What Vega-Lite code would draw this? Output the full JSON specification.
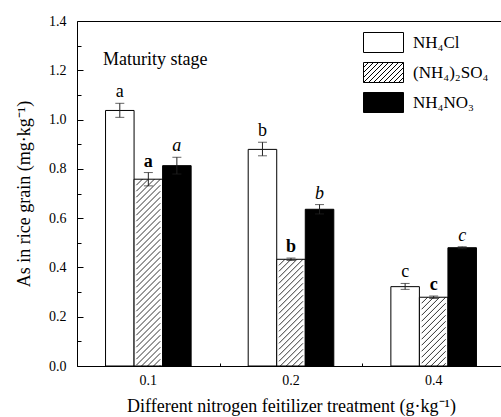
{
  "$schema": "https://vega.github.io/schema/vega-lite/v6.json",
  "width": 424,
  "height": 345,
  "autosize": {"type": "none"},
  "padding": {"left": 77, "top": 21, "right": 0, "bottom": 51},
  "background": "white",
  "config": {
    "view": {"stroke": null},
    "font": "Liberation Serif",
    "axis": {"labelFont": "Liberation Serif", "titleFont": "Liberation Serif", "labelFontSize": 14, "titleFontSize": 18, "titleFontWeight": "normal", "domainColor": "black", "tickColor": "black", "labelColor": "black", "titleColor": "black", "grid": false, "domainWidth": 1, "tickWidth": 1},
    "legend": {"labelFont": "Liberation Serif", "labelFontSize": 17, "labelColor": "black"},
    "text": {"font": "Liberation Serif", "color": "black"}
  },
  "data": {"values": [
    {"dose": "0.1", "series": "NH₄Cl", "mean": 1.037, "lo": 1.009, "hi": 1.066, "letter": "a"},
    {"dose": "0.1", "series": "(NH₄)₂SO₄", "mean": 0.758, "lo": 0.731, "hi": 0.785, "letter": "a"},
    {"dose": "0.1", "series": "NH₄NO₃", "mean": 0.813, "lo": 0.779, "hi": 0.847, "letter": "a"},
    {"dose": "0.2", "series": "NH₄Cl", "mean": 0.879, "lo": 0.853, "hi": 0.908, "letter": "b"},
    {"dose": "0.2", "series": "(NH₄)₂SO₄", "mean": 0.433, "lo": 0.428, "hi": 0.438, "letter": "b"},
    {"dose": "0.2", "series": "NH₄NO₃", "mean": 0.636, "lo": 0.617, "hi": 0.655, "letter": "b"},
    {"dose": "0.4", "series": "NH₄Cl", "mean": 0.322, "lo": 0.311, "hi": 0.335, "letter": "c"},
    {"dose": "0.4", "series": "(NH₄)₂SO₄", "mean": 0.279, "lo": 0.274, "hi": 0.284, "letter": "c"},
    {"dose": "0.4", "series": "NH₄NO₃", "mean": 0.480, "lo": 0.476, "hi": 0.484, "letter": "c"}
  ]},
  "resolve": {"axis": {"x": "independent", "y": "independent"}},
  "layer": [
    {
      "mark": {"type": "bar", "stroke": "black", "strokeWidth": 1},
      "encoding": {
        "x": {"field": "dose", "type": "nominal", "scale": {"range": [0, 428], "paddingInner": 0, "paddingOuter": 0},
          "axis": {"orient": "bottom", "title": "Different nitrogen feitilizer treatment (g·kg⁻¹)", "labelAngle": 0, "labelFontSize": 14, "titleFontSize": 18, "tickSize": -6, "labelPadding": 13, "titlePadding": 10}},
        "xOffset": {"field": "series", "type": "nominal", "scale": {"domain": ["NH₄Cl", "(NH₄)₂SO₄", "NH₄NO₃"], "paddingInner": 0, "paddingOuter": 1.472}},
        "y": {"field": "mean", "type": "quantitative", "scale": {"domain": [0, 1.4], "nice": false},
          "axis": {"orient": "left", "title": "As in rice grain (mg·kg⁻¹)", "values": [0, 0.1, 0.2, 0.3, 0.4, 0.5, 0.6, 0.7, 0.8, 0.9, 1.0, 1.1, 1.2, 1.3, 1.4],
            "labelExpr": "round(datum.value*10)%2 === 0 ? format(datum.value, '.1f') : ''",
            "labelFontSize": 14, "titleFontSize": 18,
            "tickSize": {"condition": {"test": "round(datum.value*10)%2 === 0", "value": -6}, "value": -4},
            "labelPadding": 17, "labelOverlap": false, "labelFlush": false, "titlePadding": 15}},
        "fill": {"field": "series", "type": "nominal", "scale": {"domain": ["NH₄Cl", "(NH₄)₂SO₄", "NH₄NO₃"], "range": ["white", "white", "black"]},
          "legend": {"orient": "none", "legendX": 296, "legendY": 11, "title": null, "padding": 0,
            "symbolType": "M-2,-1H2V1H-2Z", "symbolSize": 400, "symbolStrokeColor": "black", "symbolStrokeWidth": 1, "symbolOpacity": 1,
            "labelOffset": 19, "rowPadding": 5, "labelFontSize": 17,
            "encode": {"symbols": {"update": {"shape": {"signal": "indexof(datum.value, 'SO') >= 0 ? 'M-2,-1H2V1H-2Z M-2,-0.5L-1.5,-1 M-2,0L-1,-1 M-2,0.5L-0.5,-1 M-2,1L0,-1 M-1.5,1L0.5,-1 M-1,1L1,-1 M-0.5,1L1.5,-1 M0,1L2,-1 M0.5,1L2,-0.5 M1,1L2,0 M1.5,1L2,0.5' : 'M-2,-1H2V1H-2Z'"}}}}}}
      }
    },
    {
      "transform": [{"filter": {"field": "series", "equal": "(NH₄)₂SO₄"}}],
      "mark": {"type": "point", "clip": true, "filled": false, "size": 4, "stroke": "black", "strokeWidth": 0.8, "opacity": 1,
        "shape": "M-12,6L-6,0 M-12,12L0,0 M-12,18L6,0 M-12,24L12,0 M-12,30L12,6 M-12,36L12,12 M-12,42L12,18 M-12,48L12,24 M-12,54L12,30 M-12,60L12,36 M-12,66L12,42 M-12,72L12,48 M-12,78L12,54 M-12,84L12,60 M-12,90L12,66 M-12,96L12,72 M-12,102L12,78 M-12,108L12,84 M-12,114L12,90 M-12,120L12,96 M-12,126L12,102 M-12,132L12,108 M-12,138L12,114 M-12,144L12,120 M-12,150L12,126 M-12,156L12,132 M-12,162L12,138 M-12,168L12,144 M-12,174L12,150 M-12,180L12,156 M-12,186L12,162 M-12,192L12,168 M-12,198L12,174 M-8,200L12,180 M-2,200L12,186 M4,200L12,192 M10,200L12,198"},
      "encoding": {
        "x": {"field": "dose", "type": "nominal", "axis": {"orient": "bottom", "tickBand": "extent", "labels": false, "domain": false, "ticks": true, "tickSize": -3, "title": null}},
        "xOffset": {"field": "series", "type": "nominal", "scale": {"domain": ["NH₄Cl", "(NH₄)₂SO₄", "NH₄NO₃"]}},
        "y": {"field": "mean", "type": "quantitative", "axis": null}
      }
    },
    {
      "mark": {"type": "rule", "color": "#222", "strokeWidth": 1},
      "encoding": {
        "x": {"field": "dose", "type": "nominal", "axis": null},
        "xOffset": {"field": "series", "type": "nominal", "scale": {"domain": ["NH₄Cl", "(NH₄)₂SO₄", "NH₄NO₃"]}},
        "y": {"field": "lo", "type": "quantitative", "axis": null},
        "y2": {"field": "hi"}
      }
    },
    {
      "mark": {"type": "tick", "color": "#222", "size": 9, "thickness": 1},
      "encoding": {
        "x": {"field": "dose", "type": "nominal", "axis": null},
        "xOffset": {"field": "series", "type": "nominal", "scale": {"domain": ["NH₄Cl", "(NH₄)₂SO₄", "NH₄NO₃"]}},
        "y": {"field": "hi", "type": "quantitative", "axis": null}
      }
    },
    {
      "mark": {"type": "tick", "color": "#222", "size": 9, "thickness": 1},
      "encoding": {
        "x": {"field": "dose", "type": "nominal", "axis": null},
        "xOffset": {"field": "series", "type": "nominal", "scale": {"domain": ["NH₄Cl", "(NH₄)₂SO₄", "NH₄NO₃"]}},
        "y": {"field": "lo", "type": "quantitative", "axis": null}
      }
    },
    {
      "transform": [{"filter": {"field": "series", "equal": "NH₄Cl"}}],
      "mark": {"type": "text", "fontSize": 18, "baseline": "alphabetic", "dy": -6},
      "encoding": {
        "x": {"field": "dose", "type": "nominal", "axis": null},
        "xOffset": {"field": "series", "type": "nominal", "scale": {"domain": ["NH₄Cl", "(NH₄)₂SO₄", "NH₄NO₃"]}},
        "y": {"field": "hi", "type": "quantitative", "axis": null},
        "text": {"field": "letter"}
      }
    },
    {
      "transform": [{"filter": {"field": "series", "equal": "(NH₄)₂SO₄"}}],
      "mark": {"type": "text", "fontSize": 18, "fontWeight": "bold", "baseline": "alphabetic", "dy": -6},
      "encoding": {
        "x": {"field": "dose", "type": "nominal", "axis": null},
        "xOffset": {"field": "series", "type": "nominal", "scale": {"domain": ["NH₄Cl", "(NH₄)₂SO₄", "NH₄NO₃"]}},
        "y": {"field": "hi", "type": "quantitative", "axis": null},
        "text": {"field": "letter"}
      }
    },
    {
      "transform": [{"filter": {"field": "series", "equal": "NH₄NO₃"}}],
      "mark": {"type": "text", "fontSize": 18, "fontStyle": "italic", "baseline": "alphabetic", "dy": -6},
      "encoding": {
        "x": {"field": "dose", "type": "nominal", "axis": null},
        "xOffset": {"field": "series", "type": "nominal", "scale": {"domain": ["NH₄Cl", "(NH₄)₂SO₄", "NH₄NO₃"]}},
        "y": {"field": "hi", "type": "quantitative", "axis": null},
        "text": {"field": "letter"}
      }
    },
    {
      "data": {"values": [{"label": "Maturity stage"}]},
      "mark": {"type": "text", "fontSize": 18, "baseline": "middle", "align": "center", "dx": 7},
      "encoding": {
        "x": {"datum": "0.1", "type": "nominal", "axis": {"orient": "top", "labels": false, "ticks": false, "title": null, "domain": true}},
        "y": {"datum": 1.24, "type": "quantitative", "axis": null},
        "text": {"field": "label"}
      }
    }
  ]
}
